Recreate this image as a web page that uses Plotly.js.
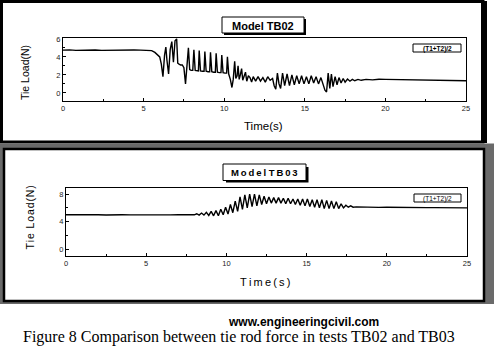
<!DOCTYPE html>
<html>
<head>
<meta charset="utf-8">
<script src="https://cdn.plot.ly/plotly-3.0.1.min.js"></script>
<style>html,body{margin:0;padding:0;background:#fff;}#chart{width:494px;height:355px;}</style>
</head>
<body>
<div id="chart"></div>
<script>
// ---- Data ----
const tb02Time = [0,0.4,0.8,1.2,1.6,2.0,2.4,2.8,3.2,3.6,4.0,4.4,4.8,5.2,5.5,5.7,5.85,6.0,6.1,6.2,6.3,6.38,6.45,6.55,6.65,6.75,6.85,6.95,7.05,7.12,7.2,7.3,7.4,7.5,7.6,7.7,7.78,7.86,7.95,8.05,8.12,8.2,8.3,8.4,8.45,8.53,8.65,8.75,8.8,8.88,9.0,9.1,9.15,9.23,9.35,9.45,9.5,9.58,9.7,9.8,9.85,9.93,10.05,10.15,10.2,10.28,10.38,10.48,10.56,10.65,10.72,10.8,10.86,10.93,11.0,11.08,11.15,11.25,11.32,11.4,11.5,11.6,11.7,11.8,11.95,12.1,12.25,12.4,12.55,12.7,12.85,13.0,13.1,13.2,13.3,13.4,13.5,13.62,13.75,13.9,14.05,14.2,14.35,14.5,14.65,14.8,14.95,15.1,15.25,15.4,15.55,15.7,15.85,16.0,16.15,16.25,16.35,16.45,16.55,16.65,16.75,16.88,17.0,17.12,17.25,17.38,17.5,17.65,17.8,17.95,18.1,18.3,18.5,18.8,19.2,19.6,20.0,20.5,21.0,21.5,22.0,22.5,23.0,23.5,24.0,24.5,25.0];
const tb02Load = [4.75,4.78,4.72,4.76,4.74,4.77,4.73,4.75,4.72,4.76,4.74,4.77,4.75,4.73,4.7,4.5,4.3,4.0,3.2,1.8,4.2,5.1,3.6,2.1,4.8,5.7,3.4,5.8,6.0,3.3,3.2,3.1,3.1,2.8,1.0,3.5,5.0,2.6,2.5,2.5,4.8,2.5,2.5,2.45,4.7,2.45,2.4,2.4,4.6,2.4,2.35,2.35,4.5,2.35,2.3,2.3,4.4,2.3,2.25,2.25,4.2,2.25,2.2,2.2,4.0,2.1,1.5,0.6,1.5,3.5,1.6,1.9,3.0,1.5,2.0,2.7,1.4,2.0,2.3,1.3,1.9,1.7,1.2,1.8,1.3,1.8,1.3,1.7,1.2,1.8,1.4,1.6,0.8,0.4,2.2,1.0,0.5,2.2,0.8,2.1,0.8,2.0,0.9,1.9,1.0,1.9,1.0,1.8,1.0,1.9,1.1,1.8,1.0,1.7,0.9,0.3,0.1,2.2,0.5,2.1,0.7,1.8,0.9,1.7,1.1,1.6,1.2,1.55,1.3,1.5,1.35,1.5,1.4,1.5,1.45,1.52,1.5,1.48,1.5,1.47,1.45,1.46,1.42,1.43,1.4,1.38,1.35];

const tb03Time = [0,0.5,1,1.5,2,2.5,3,3.5,4,4.5,5,5.5,6,6.5,7,7.5,8.0,8.15,8.3,8.45,8.6,8.75,8.9,9.05,9.2,9.35,9.5,9.65,9.8,9.95,10.1,10.25,10.4,10.55,10.7,10.85,11.0,11.15,11.3,11.45,11.6,11.75,11.9,12.05,12.2,12.35,12.5,12.65,12.8,12.95,13.1,13.25,13.4,13.55,13.7,13.85,14.0,14.15,14.3,14.45,14.6,14.75,14.9,15.05,15.2,15.35,15.5,15.65,15.8,15.95,16.1,16.25,16.4,16.55,16.7,16.85,17.0,17.15,17.3,17.45,17.6,17.75,17.9,18.1,18.5,19,19.5,20,20.5,21,21.5,22,22.5,23,23.5,24,24.5,25];
const tb03Load = [5.0,5.02,4.98,5.01,5.0,4.98,5.02,5.0,4.99,5.01,5.0,4.98,5.01,4.99,5.0,5.01,5.0,5.15,4.95,5.25,4.95,5.35,4.9,5.5,4.85,5.6,4.85,5.8,5.0,6.1,5.1,6.5,5.3,7.0,5.5,7.6,5.8,7.9,6.0,8.0,6.2,8.0,6.3,7.9,6.5,7.7,6.6,7.6,6.7,7.5,6.7,7.5,6.7,7.4,6.6,7.4,6.6,7.3,6.5,7.3,6.4,7.3,6.3,7.3,6.2,7.2,6.1,7.2,6.0,7.2,5.9,7.1,5.9,7.0,5.9,6.9,5.9,6.6,6.0,6.4,6.1,6.3,6.1,6.15,6.1,6.12,6.08,6.1,6.07,6.08,6.05,6.06,6.04,6.05,6.02,6.03,6.0,6.0];

const xTickVals = [0,5,10,15,20,25];
const tb02YTicks = [0,2,4,6];
const tb03YTicks = [0,4,8];
const seriesName = "(T1+T2)/2";
const title02 = "Model TB02";
const title03 = "M\u2009o\u2009d\u2009e\u2009l T\u2009B\u20090\u20093";
const xTitle = "Time(s)";
const yTitle = "Tie Load(N)";
const siteText = "www.engineeringcivil.com";
const caption = "Figure 8 Comparison between tie rod force in tests TB02 and TB03";

// ---- Layout helpers (pixel -> paper) ----
const W = 494, H = 355;
const px = v => v / W;
const py = v => 1 - v / H;
const SANS = "Arial, 'Liberation Sans', sans-serif";

const traces = [
  {x: tb02Time, y: tb02Load, xaxis: 'x', yaxis: 'y', mode: 'lines', name: seriesName,
   line: {color: '#000', width: 1.4}, showlegend: false, hoverinfo: 'skip'},
  {x: tb03Time, y: tb03Load, xaxis: 'x2', yaxis: 'y2', mode: 'lines', name: seriesName,
   line: {color: '#000', width: 1.4}, showlegend: false, hoverinfo: 'skip'}
];

function xAxis(domain, anchor) {
  return {domain: domain, anchor: anchor, range: [0, 25], tickvals: xTickVals,
    ticks: 'inside', ticklen: 3, tickcolor: '#000', showline: true, linecolor: '#000', linewidth: 1,
    mirror: true, showgrid: false, zeroline: false, fixedrange: true,
    tickfont: {family: SANS, size: 7.5, color: '#222'},
    minor: {dtick: 2.5, ticks: 'inside', ticklen: 2, tickcolor: '#000', showgrid: false}};
}
function yAxis(domain, anchor, range, vals, minorD) {
  return {domain: domain, anchor: anchor, range: range, tickvals: vals,
    ticks: 'inside', ticklen: 3, tickcolor: '#000', showline: true, linecolor: '#000', linewidth: 1,
    mirror: true, showgrid: false, zeroline: false, fixedrange: true,
    tickfont: {family: SANS, size: 7.5, color: '#222'},
    minor: {dtick: minorD, ticks: 'inside', ticklen: 2, tickcolor: '#000', showgrid: false}};
}

const shapes = [
  // top panel
  {type: 'rect', xref: 'paper', yref: 'paper', x0: px(1.5), x1: px(483), y0: py(1.5), y1: py(142),
   line: {color: '#000', width: 3}, fillcolor: '#fff', layer: 'below'},
  {type: 'rect', xref: 'paper', yref: 'paper', x0: px(481), x1: px(487), y0: py(1), y1: py(143),
   line: {width: 0}, fillcolor: '#000', layer: 'below'},
  // gray surround of bottom panel
  {type: 'rect', xref: 'paper', yref: 'paper', x0: 0, x1: 1, y0: py(143.5), y1: py(304),
   line: {width: 0}, fillcolor: '#6a6a6a', layer: 'below'},
  {type: 'rect', xref: 'paper', yref: 'paper', x0: px(4), x1: px(484), y0: py(149), y1: py(301),
   line: {color: '#000', width: 2.5}, fillcolor: '#fff', layer: 'below'},
  // title boxes
  {type: 'rect', xref: 'paper', yref: 'paper', x0: px(224), x1: px(306), y0: py(19), y1: py(35),
   line: {width: 0}, fillcolor: '#000', layer: 'below'},
  {type: 'rect', xref: 'paper', yref: 'paper', x0: px(222), x1: px(304), y0: py(17), y1: py(33),
   line: {color: '#000', width: 1}, fillcolor: '#fff', layer: 'below'},
  {type: 'rect', xref: 'paper', yref: 'paper', x0: px(226), x1: px(308.5), y0: py(167), y1: py(182.5),
   line: {width: 0}, fillcolor: '#000', layer: 'below'},
  {type: 'rect', xref: 'paper', yref: 'paper', x0: px(223), x1: px(306), y0: py(164), y1: py(180.5),
   line: {color: '#000', width: 1}, fillcolor: '#fff', layer: 'below'},
  // legend boxes
  {type: 'rect', xref: 'paper', yref: 'paper', x0: px(413), x1: px(461), y0: py(44), y1: py(52),
   line: {color: '#000', width: 1}, fillcolor: '#fff', layer: 'above'},
  {type: 'rect', xref: 'paper', yref: 'paper', x0: px(414), x1: px(461), y0: py(194), y1: py(202),
   line: {color: '#000', width: 1}, fillcolor: '#fff', layer: 'above'}
];

function ann(text, x, y, size, opts) {
  return Object.assign({text: text, xref: 'paper', yref: 'paper', x: px(x), y: py(y),
    xanchor: 'center', yanchor: 'middle', showarrow: false,
    font: {family: SANS, size: size, color: '#000'}}, opts || {});
}

const annotations = [
  ann('<b>' + title02 + '</b>', 263, 25.5, 11),
  ann('<b>' + title03 + '</b>', 264.5, 172.5, 9.5),
  ann('<b>' + seriesName + '</b>', 437, 48.5, 6.5),
  ann(seriesName, 437.5, 198.5, 6.5),
  ann(xTitle, 263, 126, 11.5),
  ann(xTitle.split('').join('\u2009'), 265, 282, 11),
  ann(yTitle, 25, 73, 10.5, {textangle: -90}),
  ann(yTitle.split('').join('\u200A'), 29.5, 218, 10.5, {textangle: -90}),
  ann('<b>' + siteText + '</b>', 303.5, 322, 12),
  ann(caption, 239, 336.5, 16, {font: {family: "'Times New Roman', 'Liberation Serif', serif", size: 16, color: '#000'}})
];

const layout = {
  width: W, height: H,
  margin: {l: 0, r: 0, t: 0, b: 0, pad: 0},
  paper_bgcolor: '#fff', plot_bgcolor: 'rgba(0,0,0,0)',
  showlegend: false,
  xaxis: xAxis([px(63), px(466)], 'y'),
  yaxis: yAxis([py(101), py(38)], 'x', [-0.9, 6.1], tb02YTicks, 1),
  xaxis2: xAxis([px(66), px(467)], 'y2'),
  yaxis2: yAxis([py(256), py(188)], 'x2', [-1.0, 8.9], tb03YTicks, 2),
  shapes: shapes,
  annotations: annotations
};

Plotly.newPlot('chart', traces, layout, {staticPlot: true, displayModeBar: false});
</script>
</body>
</html>
